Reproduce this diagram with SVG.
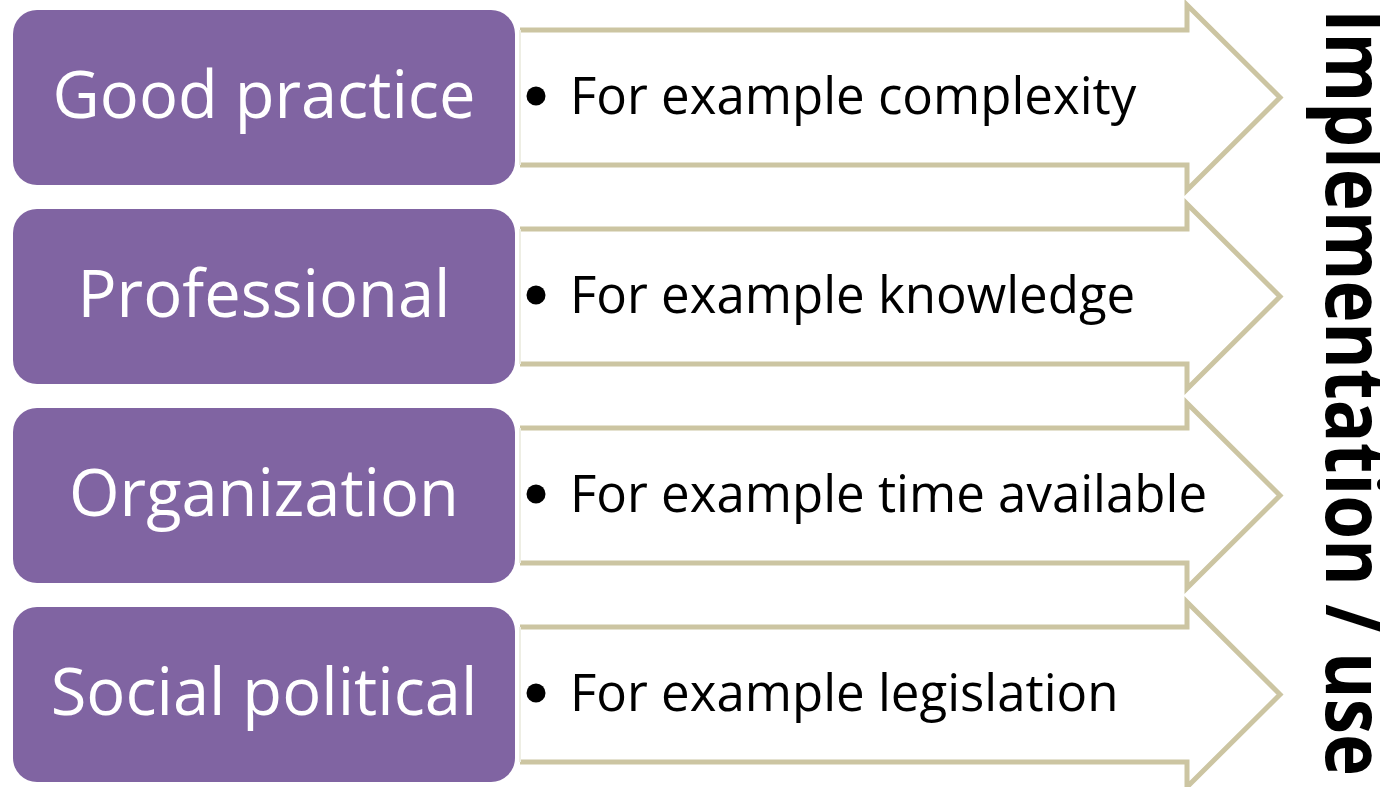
<svg xmlns="http://www.w3.org/2000/svg" width="1380" height="787" viewBox="0 0 1380 787">
<style>
.box{fill:#8064a2}
.lbl{font-family:"Open Sans","DejaVu Sans",sans-serif;font-size:65px;fill:#fff;text-anchor:middle}
.arr{fill:#fff;stroke:#ccc5a2;stroke-width:5}
.edge{stroke:#eeeee4;stroke-width:2}
.txt{font-family:"Open Sans","DejaVu Sans",sans-serif;font-size:51px;fill:#000}
.dot{fill:#000}
.side{font-family:"Open Sans","DejaVu Sans",sans-serif;font-size:71px;font-weight:bold;fill:#000}
</style>
<defs>
<path id="arrow" d="M520,30 H1187 V5 L1280,97.5 L1187,190 V165 H520"/>
</defs>
<g id="connectors">
<g transform="translate(0,0)"><use href="#arrow" class="arr"/><line x1="520" y1="30" x2="520" y2="165" class="edge"/></g>
<g transform="translate(0,199)"><use href="#arrow" class="arr"/><line x1="520" y1="30" x2="520" y2="165" class="edge"/></g>
<g transform="translate(0,398)"><use href="#arrow" class="arr"/><line x1="520" y1="30" x2="520" y2="165" class="edge"/></g>
<g transform="translate(0,597)"><use href="#arrow" class="arr"/><line x1="520" y1="30" x2="520" y2="165" class="edge"/></g>
</g>
<g id="node-good-practice">
<rect x="13" y="10" width="502" height="175" rx="24" class="box"/>
<text x="264" y="118" class="lbl">Good practice</text>
</g>
<g id="node-professional">
<rect x="13" y="209" width="502" height="175" rx="24" class="box"/>
<text x="264" y="317" class="lbl">Professional</text>
</g>
<g id="node-organization">
<rect x="13" y="408" width="502" height="175" rx="24" class="box"/>
<text x="264" y="516" class="lbl">Organization</text>
</g>
<g id="node-social-political">
<rect x="13" y="607" width="502" height="175" rx="24" class="box"/>
<text x="264" y="715" class="lbl">Social political</text>
</g>
<g id="item-complexity">
<circle cx="536" cy="96" r="9.5" class="dot"/>
<text x="570" y="114" class="txt">For example complexity</text>
</g>
<g id="item-knowledge">
<circle cx="536" cy="295" r="9.5" class="dot"/>
<text x="570" y="313" class="txt">For example knowledge</text>
</g>
<g id="item-time">
<circle cx="536" cy="494" r="9.5" class="dot"/>
<text x="570" y="512" class="txt">For example time available</text>
</g>
<g id="item-legislation">
<circle cx="536" cy="693" r="9.5" class="dot"/>
<text x="570" y="711" class="txt">For example legislation</text>
</g>
<g id="title">
<text transform="translate(1326,9) rotate(90) scale(1,1.16)" class="side">Implementation / use</text>
</g>
</svg>
